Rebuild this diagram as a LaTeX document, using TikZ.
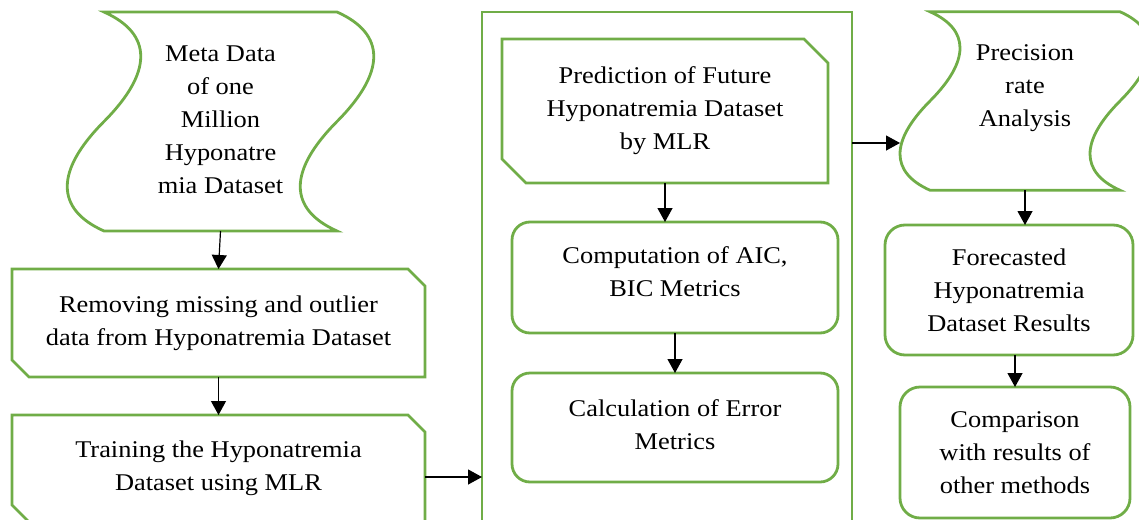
\documentclass[tikz,border=0pt]{standalone}
\usepackage{fontspec}
\setmainfont{Liberation Serif}[FakeStretch=1.1]
\usepackage{tikz}
\usetikzlibrary{arrows.meta}
\definecolor{boxgreen}{RGB}{112,173,71}
\tikzset{x=1pt, y=1pt,
  every node/.style={font=\fontsize{24}{33}\selectfont, align=center, inner sep=0pt, outer sep=0pt},
  greenline/.style={draw=boxgreen, line width=2.8pt},
  rbox/.style={greenline, rounded corners=18pt},
  arr/.style={-{Triangle[length=14pt,width=15pt]}, line width=1.2pt}}

% wavy tape outline round a node: name, control offset, half height
\newcommand{\tapeshape}[3]{%
  \draw[greenline] (#1.north west)
    .. controls +(#2,-0.2*#3) and +(#2,0.45*#3) .. (#1.west)
    .. controls +(-#2,-0.45*#3) and +(-#2,0.2*#3) .. (#1.south west)
    -- (#1.south east)
    .. controls +(-#2,0.2*#3) and +(-#2,-0.45*#3) .. (#1.east)
    .. controls +(#2,0.45*#3) and +(#2,-0.2*#3) .. (#1.north east)
    -- cycle;}
% card with two cut corners: name, cut
\newcommand{\cardshape}[2]{%
  \draw[greenline] (#1.north west) -- ([xshift=-#2]#1.north east)
    -- ([yshift=-#2]#1.north east) -- (#1.south east)
    -- ([xshift=#2]#1.south west) -- ([yshift=#2]#1.south west) -- cycle;}

\begin{document}
\begin{tikzpicture}
  \useasboundingbox (0,0) rectangle (1139,-519);
  \clip (0,0) rectangle (1139,-519);

  \node[greenline, minimum width=370pt, minimum height=530pt] (frame) at (667,-277) {};

  \node[minimum width=233pt, minimum height=219pt,
        label={[yshift=2pt]center:{Meta Data\\of one\\Million\\Hyponatre\\mia Dataset}}] (meta) at (220.5,-121.5) {};
  \tapeshape{meta}{49}{109.5}

  \node[minimum width=413pt, minimum height=108pt] (remove) at (218.5,-323)
    {Removing missing and outlier\\data from Hyponatremia Dataset};
  \cardshape{remove}{17}
  \node[minimum width=413pt, minimum height=107pt] (train) at (218.5,-468.5)
    {Training the Hyponatremia\\Dataset using MLR};
  \cardshape{train}{17}

  \node[minimum width=326pt, minimum height=144pt] (pred) at (665,-111)
    {Prediction of Future\\Hyponatremia Dataset\\by MLR};
  \cardshape{pred}{24}
  \node[rbox, minimum width=326pt, minimum height=111pt,
        label={[yshift=6pt]center:{Computation of AIC,\\BIC Metrics}}] (aic) at (675,-277.5) {};
  \node[rbox, minimum width=326pt, minimum height=109pt,
        label={[yshift=3pt]center:{Calculation of Error\\Metrics}}] (err) at (675,-427.5) {};

  \node[minimum width=190pt, minimum height=178.5pt,
        label={[yshift=13pt]center:{Precision\\rate\\Analysis}}] (prec) at (1025,-101) {};
  \tapeshape{prec}{40}{89.25}
  \node[rbox, rounded corners=20pt, minimum width=248pt, minimum height=130pt] (fore) at (1009,-290)
    {Forecasted\\Hyponatremia\\Dataset Results};
  \node[rbox, rounded corners=20pt, minimum width=230pt, minimum height=131pt] (comp) at (1015,-452.5)
    {Comparison\\with results of\\other methods};

  \draw[arr] (meta.south) -- (remove.north);
  \draw[arr] (remove.south) -- (train.north);
  \draw[arr] ([yshift=-8.5pt]train.east) -- ([yshift=-8.5pt]train.east -| frame.west);
  \draw[arr] (pred.south) -- (pred.south |- aic.north);
  \draw[arr] (aic.south) -- (err.north);
  \coordinate (precin) at ([xshift=-30pt,yshift=-42pt]prec.west);
  \draw[arr] (precin -| frame.east) -- (precin);
  \draw[arr] (prec.south) -- (prec.south |- fore.north);
  \draw[arr] (comp.north |- fore.south) -- (comp.north);

\end{tikzpicture}
\end{document}
